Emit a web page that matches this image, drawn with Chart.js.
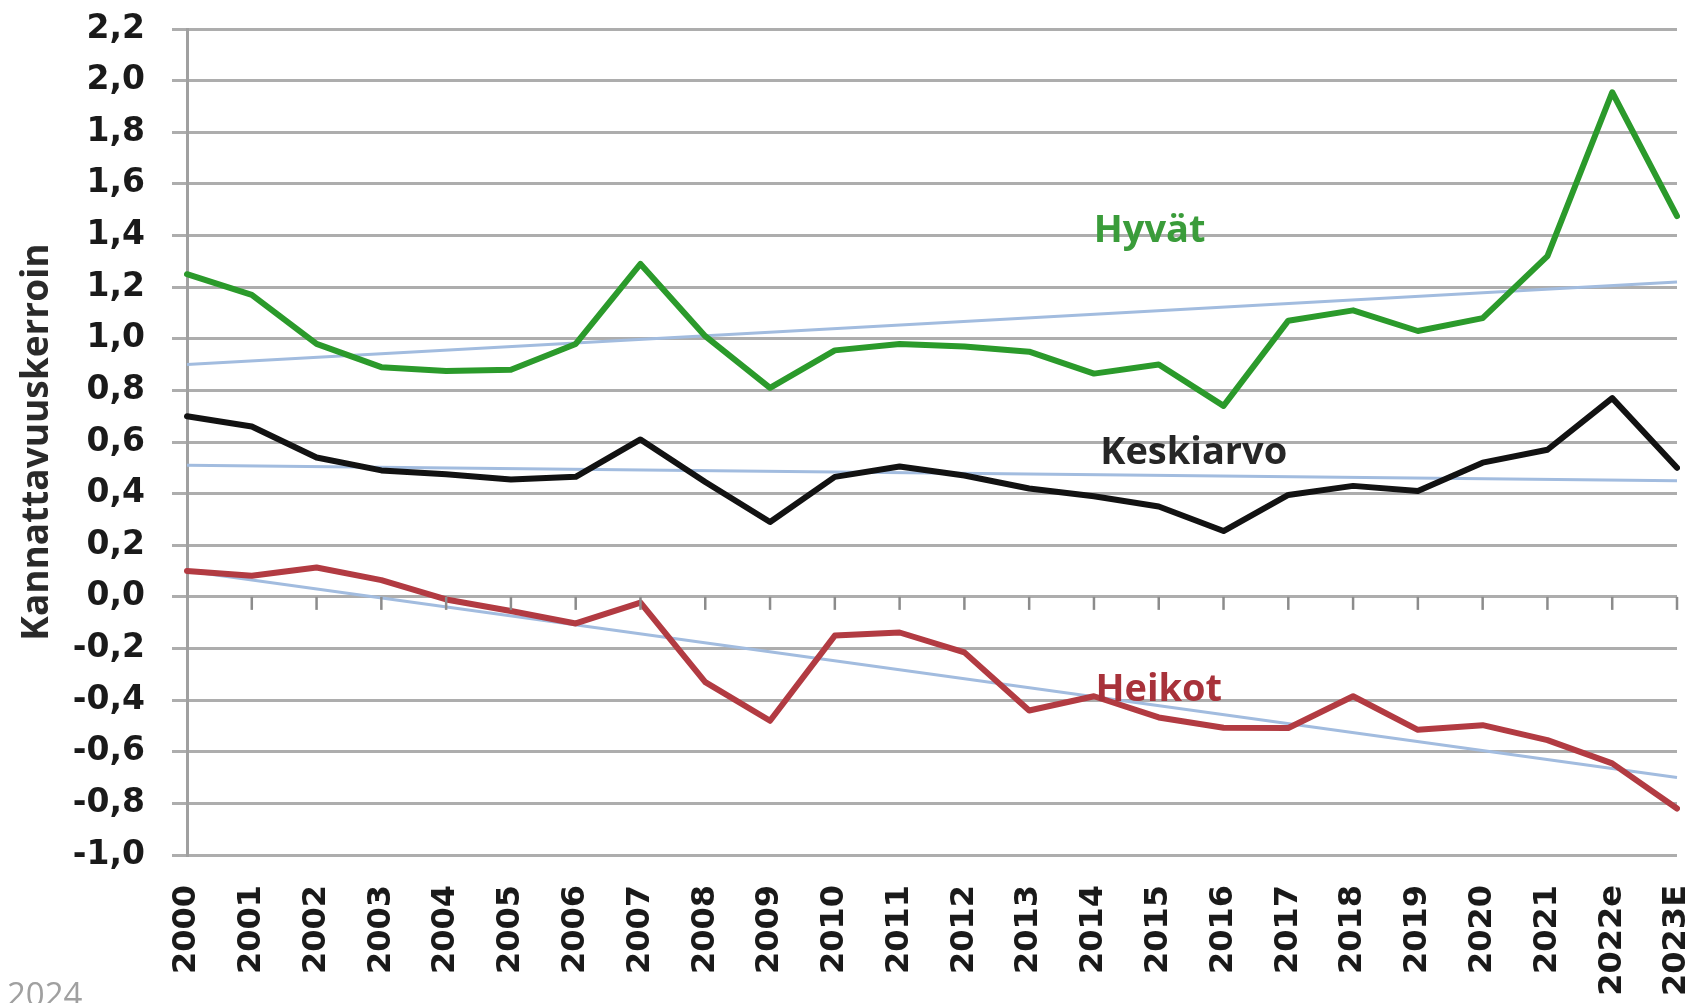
<!DOCTYPE html>
<html>
<head>
<meta charset="utf-8">
<script src="https://cdn.jsdelivr.net/npm/chart.js@4"></script>
<style>
html,body{margin:0;padding:0;background:#fff;}
#wrap{position:relative;width:1701px;height:1003px;}
</style>
</head>
<body>
<div id="wrap"><canvas id="c" width="1701" height="1003"></canvas></div>
<script>
const years = ['2000','2001','2002','2003','2004','2005','2006','2007','2008','2009','2010','2011','2012','2013','2014','2015','2016','2017','2018','2019','2020','2021','2022e','2023E'];
const hyvat = [1.25,1.17,0.98,0.89,0.875,0.88,0.98,1.29,1.01,0.81,0.955,0.98,0.97,0.95,0.865,0.90,0.74,1.07,1.11,1.03,1.08,1.32,1.955,1.475];
const keskiarvo = [0.70,0.66,0.54,0.49,0.475,0.455,0.465,0.61,0.445,0.29,0.465,0.505,0.47,0.42,0.39,0.35,0.255,0.395,0.43,0.41,0.52,0.57,0.77,0.50];
const heikot = [0.10,0.082,0.114,0.065,-0.01,-0.055,-0.103,-0.022,-0.33,-0.48,-0.15,-0.138,-0.215,-0.44,-0.385,-0.467,-0.507,-0.508,-0.385,-0.515,-0.497,-0.555,-0.645,-0.82];
// linear trend lines: value at first and last year
const trendHyvat = [0.90, 1.22];
const trendKeskiarvo = [0.51, 0.45];
const trendHeikot = [0.10, -0.70];
const yTicks = [2.2,2.0,1.8,1.6,1.4,1.2,1.0,0.8,0.6,0.4,0.2,0.0,-0.2,-0.4,-0.6,-0.8,-1.0];
const seriesLabels = ['Hyvät','Keskiarvo','Heikot'];
const yTitle = 'Kannattavuuskerroin';
const footnote = '2024';

const trendColor = '#a2bcdf';
function trend(arr){
  return [{x: years[0], y: arr[0]}, {x: years[years.length-1], y: arr[1]}];
}

const inlineLabels = {
  id: 'inlineLabels',
  afterDatasetsDraw(chart){
    const {ctx, scales:{x, y}} = chart;
    ctx.save();
    // small tick marks on the zero line
    ctx.strokeStyle = '#8c8c8c';
    ctx.lineWidth = 2.5;
    const y0 = y.getPixelForValue(0);
    for (let i = 1; i < years.length; i++) {
      const px = x.getPixelForValue(i);
      ctx.beginPath();
      ctx.moveTo(px, y0);
      ctx.lineTo(px, y0 + 13);
      ctx.stroke();
    }
    ctx.font = 'bold 38px "Open Sans"';
    ctx.textAlign = 'center';
    ctx.textBaseline = 'middle';
    const items = [
      {t: seriesLabels[0], i: 14.86, v: 1.415, c: '#3a9c3a'},
      {t: seriesLabels[1], i: 15.54, v: 0.555, c: '#262626'},
      {t: seriesLabels[2], i: 15.0, v: -0.36, c: '#a8323a'}
    ];
    for (const it of items) {
      const px = x.left + (x.right - x.left) * it.i / (years.length - 1);
      ctx.fillStyle = it.c;
      ctx.fillText(it.t, px, y.getPixelForValue(it.v));
    }
    ctx.font = '33px "Open Sans"';
    ctx.fillStyle = '#a0a0a0';
    ctx.textAlign = 'left';
    ctx.textBaseline = 'alphabetic';
    ctx.fillText(footnote, 7, 1006);
    ctx.restore();
  }
};

new Chart(document.getElementById('c'), {
  type: 'line',
  data: {
    labels: years,
    datasets: [
      {label: 'trend H', data: trend(trendHyvat), borderColor: trendColor, borderWidth: 3, pointRadius: 0, order: 10},
      {label: 'trend K', data: trend(trendKeskiarvo), borderColor: trendColor, borderWidth: 3, pointRadius: 0, order: 10},
      {label: 'trend W', data: trend(trendHeikot), borderColor: trendColor, borderWidth: 3, pointRadius: 0, order: 10},
      {label: seriesLabels[0], data: hyvat, borderColor: '#2b9a2b', borderWidth: 6, pointRadius: 0, order: 1, borderJoinStyle: 'round', borderCapStyle: 'round'},
      {label: seriesLabels[1], data: keskiarvo, borderColor: '#121212', borderWidth: 6, pointRadius: 0, order: 1, borderJoinStyle: 'round', borderCapStyle: 'round'},
      {label: seriesLabels[2], data: heikot, borderColor: '#b23b42', borderWidth: 6, pointRadius: 0, order: 1, borderJoinStyle: 'round', borderCapStyle: 'round'}
    ]
  },
  options: {
    responsive: false,
    animation: false,
    devicePixelRatio: 1,
    layout: {padding: {left: 0, right: 24, top: 29, bottom: 0}},
    plugins: {legend: {display: false}, tooltip: {enabled: false}},
    scales: {
      x: {
        type: 'category',
        offset: false,
        grid: {display: false, drawTicks: false},
        border: {display: false},
        ticks: {
          autoSkip: false, maxRotation: 90, minRotation: 90, padding: 30,
          color: '#1a1a1a', font: {family: 'DejaVu Sans', weight: 'bold', size: 32}
        },
        afterFit(s){ s.height = 148; s.paddingLeft = 0; s.paddingRight = 0; }
      },
      y: {
        min: -1.0, max: 2.2,
        afterBuildTicks(s){ s.ticks = yTicks.map(v => ({value: v})); },
        grid: {color: '#adadad', lineWidth: 3, tickLength: 15, drawTicks: true, tickColor: '#adadad'},
        border: {display: true, color: '#a0a0a0', width: 3},
        ticks: {
          padding: 27, color: '#1a1a1a',
          font: {family: 'DejaVu Sans', weight: 'bold', size: 33},
          callback: v => v.toFixed(1).replace('.', ',')
        },
        title: {display: true, text: yTitle, color: '#2a2a2a', padding: {top: 15, bottom: 0},
          font: {family: 'Open Sans', weight: 'bold', size: 37}},
        afterFit(s){ s.width = 187; s.paddingTop = 0; s.paddingBottom = 0; }
      }
    }
  },
  plugins: [inlineLabels]
});
</script>
</body>
</html>
